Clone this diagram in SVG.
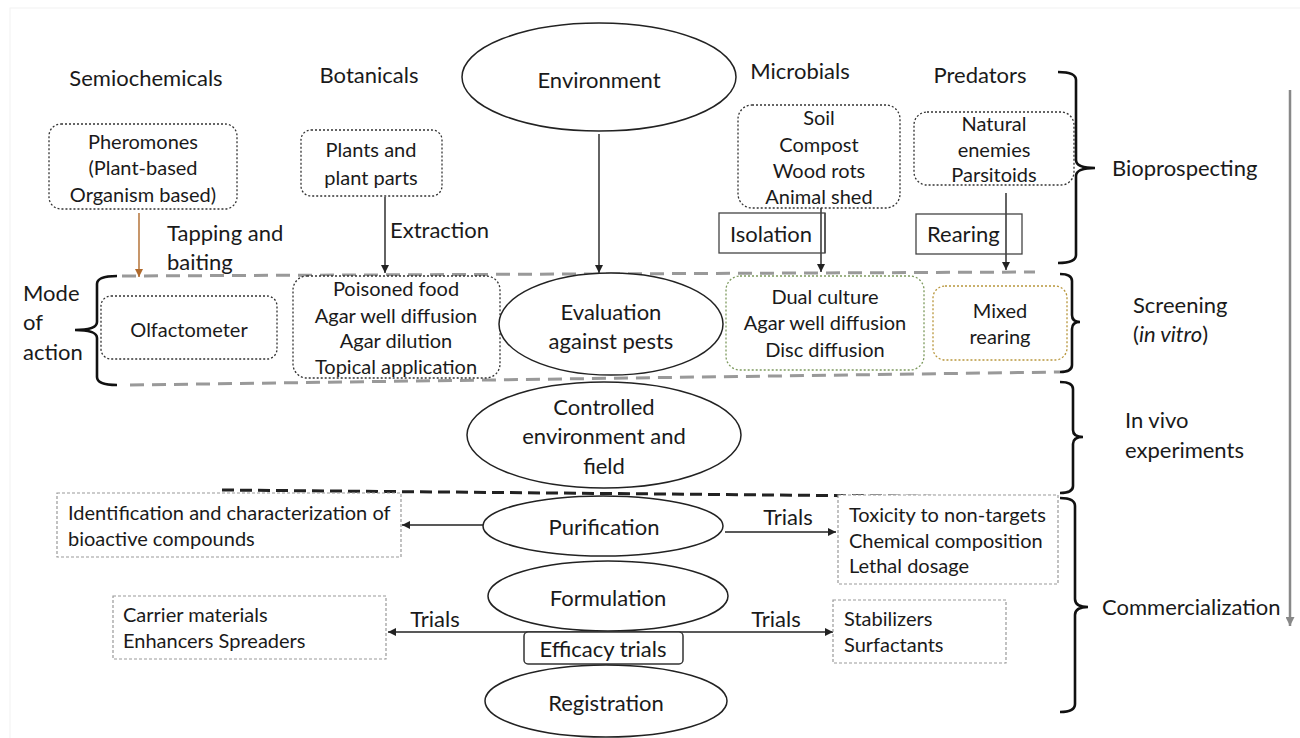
<svg xmlns="http://www.w3.org/2000/svg" width="1300" height="738" viewBox="0 0 1300 738">
<style>
text{font-family:Lato,"Liberation Sans",sans-serif;font-size:22px;fill:#1a1a1a}
.c{text-anchor:middle}
.s{font-size:20px}
.ell{fill:#fff;stroke:#222;stroke-width:1.5}
.dot{fill:#fff;stroke:#333;stroke-width:1.3;stroke-dasharray:2 2}
.gbox{fill:#fff;stroke:#999;stroke-width:1.2;stroke-dasharray:3 2}
.sq{fill:none;stroke:#444;stroke-width:1.3}
.arr{stroke:#222;stroke-width:1.4;fill:none}
.brace{stroke:#111;stroke-width:2.6;fill:none}
.gdash{stroke:#999;stroke-width:3;stroke-dasharray:14 8;fill:none}
</style>
<defs>
<marker id="ah" viewBox="0 0 10 10" refX="10" refY="5" markerWidth="8" markerHeight="8" markerUnits="userSpaceOnUse" orient="auto-start-reverse"><path d="M0,0 L10,5 L0,10 z" fill="#222"/></marker>
<marker id="ahb" viewBox="0 0 10 10" refX="10" refY="5" markerWidth="8" markerHeight="8" markerUnits="userSpaceOnUse" orient="auto"><path d="M0,0 L10,5 L0,10 z" fill="#b06a2c"/></marker>
<marker id="ahg" viewBox="0 0 10 10" refX="10" refY="5" markerWidth="9" markerHeight="9" markerUnits="userSpaceOnUse" orient="auto"><path d="M0,0 L10,5 L0,10 z" fill="#888"/></marker>
</defs>
<rect x="0" y="0" width="1300" height="738" fill="#fff"/>
<rect x="10" y="8" width="1300" height="740" fill="none" stroke="#f2f2f2" stroke-width="1"/>

<g id="section-lines">
<line class="gdash" x1="122" y1="276" x2="1035" y2="272"/>
<line class="gdash" x1="130" y1="385" x2="1060" y2="372"/>
<line x1="222" y1="490" x2="993" y2="497" stroke="#222" stroke-width="3" stroke-dasharray="12 6"/>
<line x1="1290" y1="90" x2="1290" y2="626" stroke="#888" stroke-width="2.5" marker-end="url(#ahg)"/>
</g>

<g id="braces">
<path class="brace" d="M1058,72 Q1076,72 1076,80 L1076,160 Q1076,168 1095,168 Q1076,168 1076,176 L1076,255 Q1076,263 1058,263"/>
<path class="brace" d="M1060,274 Q1072,274 1072,281 L1072,315 Q1072,322 1080,322 Q1072,322 1072,329 L1072,365 Q1072,372 1060,372"/>
<path class="brace" d="M1060,382 Q1073,382 1073,389 L1073,430 Q1073,437 1083,437 Q1073,437 1073,444 L1073,486 Q1073,493 1060,493"/>
<path class="brace" d="M1060,498 Q1075,498 1075,506 L1075,599 Q1075,607 1088,607 Q1075,607 1075,615 L1075,704 Q1075,712 1060,712"/>
<path class="brace" d="M117,276 Q97,276 97,284 L97,322 Q97,330 75,330 Q97,330 97,338 L97,377 Q97,385 117,385"/>
</g>

<g id="labels">
<text class="c" x="146" y="86">Semiochemicals</text>
<text class="c" x="369" y="83">Botanicals</text>
<text class="c" x="800" y="79">Microbials</text>
<text class="c" x="980" y="83">Predators</text>
<text x="1112" y="176">Bioprospecting</text>
<text x="1133" y="313">Screening</text>
<text x="1133" y="342">(<tspan font-style="italic">in vitro</tspan>)</text>
<text x="1125" y="428">In vivo</text>
<text x="1125" y="458">experiments</text>
<text x="1102" y="615">Commercialization</text>
<text x="23" y="301">Mode</text>
<text x="23" y="330">of</text>
<text x="23" y="360">action</text>
<text x="167" y="241">Tapping and</text>
<text x="167" y="270">baiting</text>
<text x="390" y="238">Extraction</text>
<text class="c" x="788" y="525">Trials</text>
<text class="c" x="435" y="627">Trials</text>
<text class="c" x="776" y="627">Trials</text>
</g>

<g id="connectors">
<line class="arr" x1="599" y1="134" x2="599" y2="273" marker-end="url(#ah)"/>
<line class="arr" x1="385" y1="197" x2="385" y2="273" marker-end="url(#ah)"/>
<line x1="139" y1="213" x2="139" y2="277" stroke="#b06a2c" stroke-width="1.4" marker-end="url(#ahb)"/>
<line class="arr" x1="821" y1="208" x2="821" y2="272" marker-end="url(#ah)"/>
<line class="arr" x1="1006" y1="193" x2="1006" y2="270" marker-end="url(#ah)"/>
<line class="arr" x1="483" y1="525" x2="402" y2="525" marker-end="url(#ah)"/>
<line class="arr" x1="725" y1="532" x2="836" y2="532" marker-end="url(#ah)"/>
<line class="arr" x1="388" y1="632" x2="833" y2="632" marker-start="url(#ah)" marker-end="url(#ah)"/>
</g>

<g id="n-environment"><ellipse class="ell" cx="599" cy="77" rx="137" ry="54"/><text class="c" x="599" y="88">Environment</text></g>

<g id="n-pheromones"><rect class="dot" x="49" y="124" width="188" height="85" rx="12"/>
<text class="c s" x="143" y="149">Pheromones</text><text class="c s" x="143" y="175">(Plant-based</text><text class="c s" x="143" y="202">Organism based)</text></g>

<g id="n-plants"><rect class="dot" x="301" y="130" width="141" height="66" rx="10"/>
<text class="c s" x="371" y="157">Plants and</text><text class="c s" x="371" y="185">plant parts</text></g>

<g id="n-microbial-sources"><rect class="dot" x="738" y="105" width="162" height="103" rx="14"/>
<text class="c s" x="819" y="125">Soil</text><text class="c s" x="819" y="152">Compost</text><text class="c s" x="819" y="178">Wood rots</text><text class="c s" x="819" y="204">Animal shed</text></g>

<g id="n-predator-sources"><rect class="dot" x="914" y="112" width="160" height="73" rx="13"/>
<text class="c s" x="994" y="131">Natural</text><text class="c s" x="994" y="157">enemies</text><text class="c s" x="994" y="182">Parsitoids</text></g>

<g id="n-isolation"><rect class="sq" x="719" y="213" width="106" height="40"/><line x1="825" y1="213" x2="825" y2="253" stroke="#444" stroke-width="1.3"/>
<text x="730" y="242">Isolation</text></g>

<g id="n-rearing"><rect class="sq" x="916" y="214" width="106" height="40"/><text x="927" y="242">Rearing</text></g>

<g id="n-olfactometer"><rect class="dot" x="101" y="296" width="176" height="63" rx="10"/><text class="c s" x="189" y="337">Olfactometer</text></g>

<g id="n-botanical-assays"><rect class="dot" x="293" y="276" width="207" height="102" rx="14"/>
<text class="c s" x="396" y="296">Poisoned food</text><text class="c s" x="396" y="323">Agar well diffusion</text><text class="c s" x="396" y="348">Agar dilution</text><text class="c s" x="396" y="374">Topical application</text></g>

<g id="n-evaluation"><ellipse class="ell" cx="611" cy="324" rx="112" ry="51"/>
<text class="c" x="611" y="320">Evaluation</text><text class="c" x="611" y="349">against pests</text></g>

<g id="n-microbial-assays"><rect x="726" y="276" width="198" height="94" rx="14" fill="#fff" stroke="#7d9a5e" stroke-width="1.3" stroke-dasharray="2 2"/>
<text class="c s" x="825" y="304">Dual culture</text><text class="c s" x="825" y="330">Agar well diffusion</text><text class="c s" x="825" y="357">Disc diffusion</text></g>

<g id="n-mixed-rearing"><rect x="933" y="286" width="134" height="74" rx="12" fill="#fff" stroke="#b8963c" stroke-width="1.3" stroke-dasharray="2 2"/>
<text class="c s" x="1000" y="318">Mixed</text><text class="c s" x="1000" y="344">rearing</text></g>

<g id="n-controlled"><ellipse class="ell" cx="604" cy="435" rx="137" ry="53"/>
<text class="c" x="604" y="415">Controlled</text><text class="c" x="604" y="444">environment and</text><text class="c" x="604" y="474">field</text></g>

<g id="n-identification"><rect class="gbox" x="57" y="493" width="344" height="64"/>
<text class="s" x="68" y="520">Identification and characterization of</text><text class="s" x="68" y="546">bioactive compounds</text></g>

<g id="n-purification"><ellipse class="ell" cx="603" cy="526" rx="120" ry="30"/><text class="c" x="604" y="535">Purification</text></g>

<g id="n-toxicity"><rect class="gbox" x="838" y="495" width="220" height="89"/>
<text class="s" x="849" y="522">Toxicity to non-targets</text><text class="s" x="849" y="548">Chemical composition</text><text class="s" x="849" y="573">Lethal dosage</text></g>

<g id="n-formulation"><ellipse class="ell" cx="608" cy="596" rx="120" ry="35"/><text class="c" x="608" y="606">Formulation</text></g>

<g id="n-carrier"><rect class="gbox" x="113" y="596" width="273" height="63"/>
<text class="s" x="123" y="622">Carrier materials</text><text class="s" x="123" y="648">Enhancers Spreaders</text></g>

<g id="n-stabilizers"><rect class="gbox" x="833" y="600" width="173" height="63"/>
<text class="s" x="844" y="626">Stabilizers</text><text class="s" x="844" y="652">Surfactants</text></g>

<g id="n-efficacy"><rect x="524" y="632" width="159" height="32" rx="4" fill="#fff" stroke="#333" stroke-width="1.5"/><text class="c" x="603" y="657">Efficacy trials</text></g>

<g id="n-registration"><ellipse class="ell" cx="606" cy="701" rx="121" ry="36"/><text class="c" x="606" y="711">Registration</text></g>
</svg>
